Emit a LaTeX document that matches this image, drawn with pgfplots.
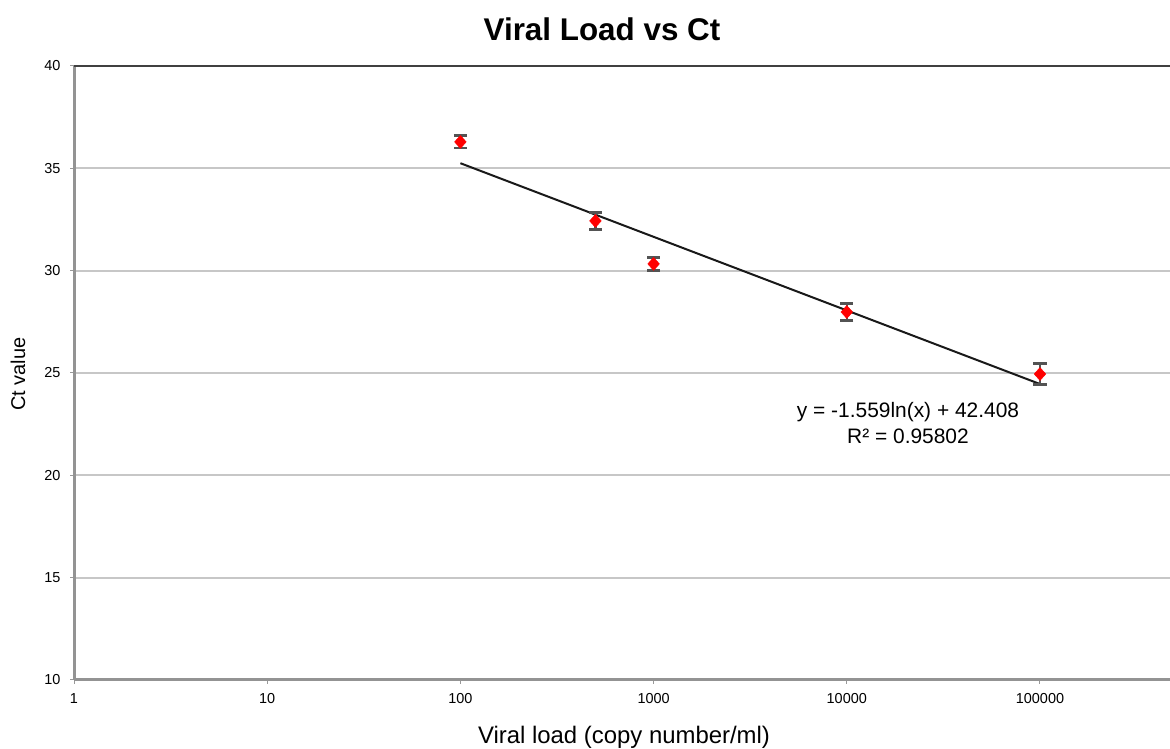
\documentclass[border=0pt]{standalone}
\usepackage{pgfplots}
\pgfplotsset{compat=1.18}
\usepackage{fontspec}
\setmainfont{Liberation Sans}
\begin{document}
\begin{tikzpicture}[x=1bp,y=1bp]
\useasboundingbox (0,0) rectangle (1170,749);
\begin{axis}[
  at={(74bp,69bp)}, anchor=south west,
  scale only axis, width=1096bp, height=614bp,
  xmode=log, xmin=1, xmax=471000,
  ymin=10, ymax=40,
  ytick={10,15,20,25,30,35,40},
  xtick={1,10,100,1000,10000,100000},
  xticklabels={1,10,100,1000,10000,100000},
  minor xtick={},
  log basis x=10,
  axis x line*=bottom, axis y line*=left,
  axis line style={draw=gray!85, line width=3bp},
  ymajorgrids, grid style={draw=black!22, line width=2bp},
  tick style={draw=gray!80, line width=1bp},
  tick align=outside, major tick length=4bp,
  ticklabel style={font=\fontsize{14.5}{17}\selectfont, text=black},
  xticklabel style={yshift=-6bp},
  yticklabel style={xshift=-6bp},
  /pgf/number format/assume math mode=true,
  clip=false,
]
\addplot[black!90, line width=2bp] coordinates {(100,35.25) (100000,24.46)};
\addplot[only marks, mark=diamond*, mark size=6.5bp, color=red, mark options={fill=red, draw=red, xscale=1.2},
  error bars/.cd, y dir=both, y explicit,
  error bar style={draw=gray!65!black, line width=2.6bp},
  error mark options={rotate=90, mark size=6.5bp, line width=2.6bp, draw=gray!65!black}]
  coordinates {
  (100,36.29) +- (0,0.3)
  (500,32.43) +- (0,0.42)
  (1000,30.33) +- (0,0.32)
  (10000,27.98) +- (0,0.42)
  (100000,24.95) +- (0,0.52)
  };
\draw[draw=black!75, line width=2bp] (axis cs:1,40) -- (axis cs:471000,40);
\end{axis}
\node[font=\fontsize{31.5}{36}\selectfont\bfseries] at (602,720) {Viral Load vs Ct};
\node[font=\fontsize{20}{24}\selectfont, rotate=90] at (18,375) {Ct value};
\node[font=\fontsize{24}{28}\selectfont] at (624,12) {Viral load (copy number/ml)};
\node[font=\fontsize{21}{27}\selectfont, align=center] at (908,326) {y = -1.559ln(x) + 42.408\\R² = 0.95802};
\end{tikzpicture}
\end{document}
